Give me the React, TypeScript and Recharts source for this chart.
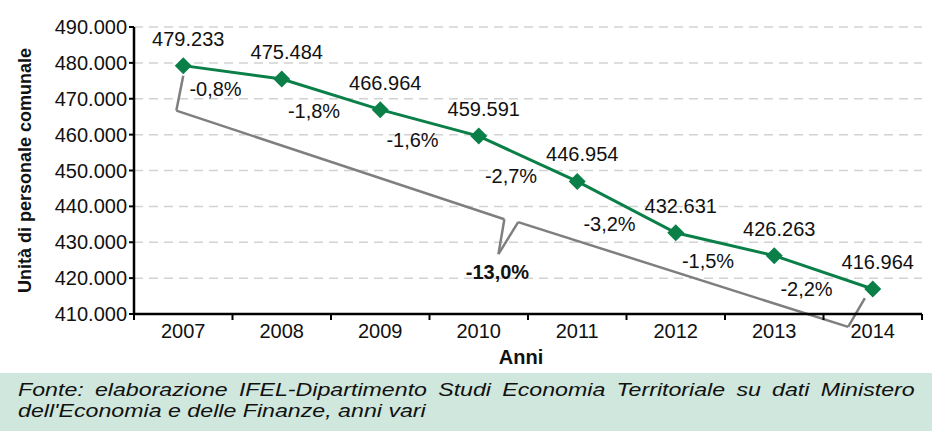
import React from 'react';
import {
  ComposedChart, Line, XAxis, YAxis, CartesianGrid, LabelList, ReferenceLine, ReferenceDot,
} from 'recharts';

const YEARS = ['2007', '2008', '2009', '2010', '2011', '2012', '2013', '2014'];
const STAFF = [479233, 475484, 466964, 459591, 446954, 432631, 426263, 416964];
const CHANGES = ['-0,8%', '-1,8%', '-1,6%', '-2,7%', '-3,2%', '-1,5%', '-2,2%'];
const Y_TICKS = [410000, 420000, 430000, 440000, 450000, 460000, 470000, 480000, 490000];

// bracket showing total change 2007 -> 2014 (x in band index units)
const BRACKET = [
  { x: 0.0, y: 476400 },
  { x: -0.07, y: 466700 },
  { x: 3.26, y: 436400 },
  { x: 3.2, y: 426700 },
  { x: 3.4, y: 435600 },
  { x: 6.75, y: 406400 },
  { x: 6.92, y: 414400 },
];
const TOTAL_LABEL = { x: 3.19, y: 421700, text: '-13,0%' };

const GREEN = '#0a8048';
const FONT = '"Liberation Sans", Arial, sans-serif';

const fmt = (v: number) => v.toLocaleString('de-DE');

const data = YEARS.map((year, i) => ({ year, value: STAFF[i] }));
const mids = CHANGES.map((pct, i) => ({
  x: i + 0.5,
  mid: (STAFF[i] + STAFF[i + 1]) / 2,
  pct,
}));

const Diamond = (props: any) => {
  const { cx, cy } = props;
  if (cx == null || cy == null) return null;
  const s = 8.5;
  return <polygon points={`${cx},${cy - s} ${cx + s},${cy} ${cx},${cy + s} ${cx - s},${cy}`} fill={GREEN} />;
};

// year label centred in the band, tick mark on the band edges
const YearTick = (props: any) => {
  const { x, y, payload, index, visibleTicksCount } = props;
  const half = payload.offset || 0;
  const axisY = y - 10;
  const isLast = index === (visibleTicksCount ?? YEARS.length) - 1;
  return (
    <g>
      <line x1={x - half} x2={x - half} y1={axisY} y2={axisY + 6} stroke="#000" strokeWidth={2} />
      {isLast && <line x1={x + half} x2={x + half} y1={axisY} y2={axisY + 6} stroke="#000" strokeWidth={2} />}
      <text x={x} y={y} dy="0.71em" textAnchor="middle" fontSize={20} fill="#111" fontFamily={FONT}>
        {payload.value}
      </text>
    </g>
  );
};

export default function App() {
  return (
    <div style={{ position: 'absolute', left: 0, top: 0, width: 932, height: 431, background: '#fff', fontFamily: FONT, overflow: 'hidden' }}>
      <ComposedChart width={932} height={372} data={data} margin={{ top: 27, right: 10, left: 0, bottom: 0 }}>
        <CartesianGrid vertical={false} stroke="#d2d2d2" strokeWidth={1.5} strokeDasharray="9 6" />
        <XAxis xAxisId="n" type="number" dataKey="x" domain={[-0.5, 7.5]} hide />
        <XAxis
          xAxisId="c"
          dataKey="year"
          scale="band"
          height={58}
          tickLine={false}
          tickSize={6}
          tickMargin={4}
          interval={0}
          axisLine={{ stroke: '#000', strokeWidth: 2.5 }}
          tick={<YearTick />}
          label={{
            content: (p: any) => {
              const vb = p.viewBox;
              return (
                <text x={521} y={vb.y + vb.height - 8} textAnchor="middle" fontSize={20} fontWeight="bold" fill="#111" fontFamily={FONT}>
                  Anni
                </text>
              );
            },
          }}
        />
        <YAxis
          domain={[410000, 490000]}
          ticks={Y_TICKS}
          tickFormatter={fmt}
          width={134}
          axisLine={{ stroke: '#000', strokeWidth: 2.5 }}
          tickLine={{ stroke: '#000', strokeWidth: 2 }}
          tickSize={5}
          tick={{ fontSize: 20, fill: '#111', fontFamily: FONT }}
          label={{
            content: (p: any) => {
              const vb = p.viewBox;
              const cx = 25;
              const cy = vb.y + vb.height / 2;
              return (
                <text x={cx} y={cy} transform={`rotate(-90, ${cx}, ${cy})`} textAnchor="middle" dominantBaseline="central" fontSize={18} fontWeight="bold" fill="#111" fontFamily={FONT}>
                  Unità di personale comunale
                </text>
              );
            },
          }}
        />
        {BRACKET.slice(1).map((p, i) => (
          <ReferenceLine
            key={i}
            xAxisId="n"
            segment={[BRACKET[i], p]}
            stroke="#7f7f7f"
            strokeWidth={2.5}
            ifOverflow="visible"
          />
        ))}
        <ReferenceDot
          xAxisId="n"
          x={TOTAL_LABEL.x}
          y={TOTAL_LABEL.y}
          r={0}
          ifOverflow="visible"
          label={{
            content: (p: any) => (
              <text x={p.viewBox.cx ?? p.viewBox.x} y={p.viewBox.cy ?? p.viewBox.y} textAnchor="middle" dominantBaseline="central" fontSize={20} fontWeight="bold" fill="#111" fontFamily={FONT}>
                {TOTAL_LABEL.text}
              </text>
            ),
          }}
        />
        <Line
          xAxisId="n"
          data={mids}
          dataKey="mid"
          stroke="none"
          dot={false}
          activeDot={false}
          isAnimationActive={false}
        >
          <LabelList
            dataKey="pct"
            content={(p: any) => (
              <text x={p.x - 17} y={p.y + 17} textAnchor="middle" dominantBaseline="central" fontSize={20} fill="#111" fontFamily={FONT}>
                {p.value}
              </text>
            )}
          />
        </Line>
        <Line
          xAxisId="c"
          dataKey="value"
          stroke={GREEN}
          strokeWidth={3}
          dot={<Diamond />}
          activeDot={false}
          isAnimationActive={false}
        >
          <LabelList
            dataKey="value"
            content={(p: any) => (
              <text x={p.x + 5} y={p.y - 27} textAnchor="middle" dominantBaseline="central" fontSize={20} fill="#111" fontFamily={FONT}>
                {fmt(p.value)}
              </text>
            )}
          />
        </Line>
      </ComposedChart>
      <div style={{ position: 'absolute', left: 0, top: 373, width: 932, height: 58, background: '#cfe7dc' }} />
      <div
        style={{
          position: 'absolute', left: 18, top: 379, width: 735, transform: 'scaleX(1.22)', transformOrigin: '0 0',
          fontFamily: '"Liberation Sans", Arial, sans-serif', fontStyle: 'italic', fontSize: 19, lineHeight: '21px', color: '#111',
        }}
      >
        <div style={{ textAlign: 'justify', textAlignLast: 'justify' }}>
          Fonte: elaborazione IFEL-Dipartimento Studi Economia Territoriale su dati Ministero
        </div>
        <div>dell'Economia e delle Finanze, anni vari</div>
      </div>
    </div>
  );
}
